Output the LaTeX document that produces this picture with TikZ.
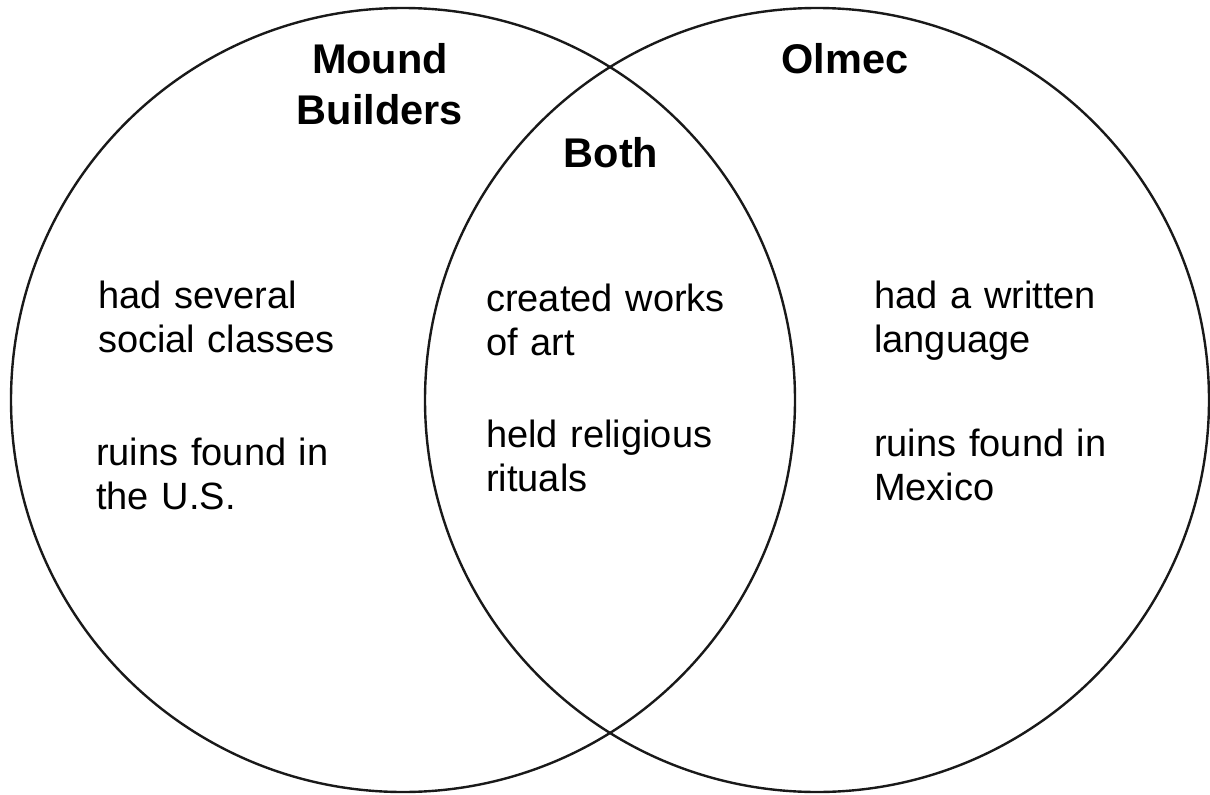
\documentclass[tikz,border=0pt]{standalone}
\usepackage{fontspec}
\setmainfont{Liberation Sans}
\begin{document}
\begin{tikzpicture}[x=1pt,y=-1pt,
  ring/.style={draw=black!90,line width=2.4pt},
  title/.style={font=\fontsize{41.5}{51}\selectfont\bfseries,inner sep=0pt,anchor=base,align=center,text width=260pt},
  item/.style={font=\fontsize{38}{44.5}\selectfont,inner sep=0pt,anchor=base west,align=left,text width=300pt}]
\useasboundingbox (0,0) rectangle (1210,795);
\node[ring,circle,minimum size=784pt,inner sep=0pt] (L) at (403,400) {};
\node[ring,circle,minimum size=784pt,inner sep=0pt] (R) at (817,400) {};
\node[title] (mb) at (380,73) {Mound\\Builders};
\node[title] (both) at (611,167) {Both};
\node[title] (olmec) at (845,73) {Olmec};
\node[item] (l1) at (98,308) {had several\\social classes};
\node[item] (l2) at (96,465) {ruins found in\\the U.S.};
\node[item] (m1) at (486,311) {created works\\of art};
\node[item] (m2) at (486,447) {held religious\\rituals};
\node[item] (r1) at (874,308) {had a written\\language};
\node[item] (r2) at (874,456) {ruins found in\\Mexico};
\end{tikzpicture}
\end{document}
